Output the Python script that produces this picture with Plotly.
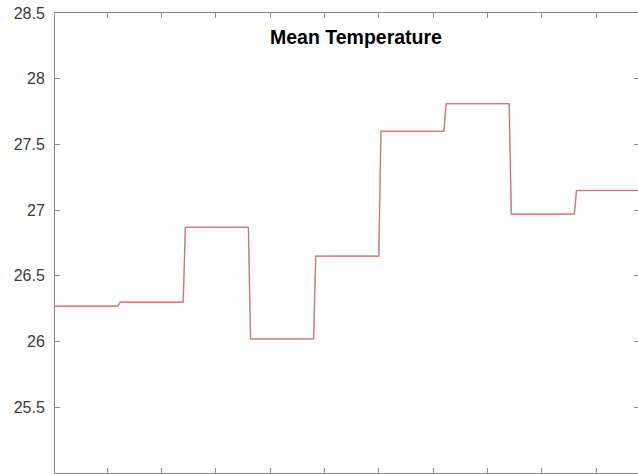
import plotly.graph_objects as go

# Monthly mean temperature (360-day calendar, 30 days per month), shown as daily values
month_means = [26.27, 26.30, 26.87, 26.02, 26.65, 27.60, 27.81, 26.97, 27.15]
days_per_month = 30
ytick_vals = [25.5, 26, 26.5, 27, 27.5, 28, 28.5]
ytick_text = ["25.5", "26", "26.5", "27", "27.5", "28", "28.5"]
xtick_vals = [25, 50, 75, 100, 125, 150, 175, 200, 225, 250]

days = list(range(1, len(month_means) * days_per_month + 1))
temps = [m for m in month_means for _ in range(days_per_month)]

YR = [25, 28.5]
XR = [1, 269.3]

fig = go.Figure()
fig.add_trace(go.Scatter(x=days, y=temps, mode="lines",
                         line=dict(color="rgba(230,95,95,0.5)", width=1.6),
                         yaxis="y2", hoverinfo="skip", showlegend=False))
fig.add_trace(go.Scatter(x=days, y=temps, mode="lines",
                         line=dict(color="rgba(100,55,55,0.75)", width=0.8),
                         showlegend=False))

axis_col = "#8a8a8a"
font_family = "Liberation Sans, Arial, sans-serif"

fig.update_layout(
    width=638, height=474,
    margin=dict(l=55, r=0, t=13, b=1, pad=0),
    paper_bgcolor="white", plot_bgcolor="white",
    font=dict(family=font_family, size=16, color="#3a3a3a"),
    xaxis=dict(range=XR, tickvals=xtick_vals, ticks="inside", ticklen=5,
               tickcolor=axis_col, showline=True, linecolor=axis_col, linewidth=1,
               mirror="ticks", showgrid=False, zeroline=False, showticklabels=False),
    yaxis=dict(range=YR, tickvals=ytick_vals, ticktext=ytick_text, ticks="inside",
               ticklen=5, tickcolor=axis_col, showline=True, linecolor=axis_col,
               linewidth=1, mirror=False, showgrid=False, zeroline=False,
               ticklabelstandoff=6),
    yaxis2=dict(range=YR, tickvals=ytick_vals, ticks="inside", ticklen=4,
                tickcolor=axis_col, overlaying="y", side="right", showline=False,
                showgrid=False, zeroline=False, showticklabels=False),
    annotations=[dict(text="<b>Mean Temperature</b>", x=0.517, y=0.948,
                      xref="paper", yref="paper", showarrow=False,
                      font=dict(family=font_family, size=19.5, color="black"),
                      xanchor="center", yanchor="middle")],
)

fig.write_html("out.html")
